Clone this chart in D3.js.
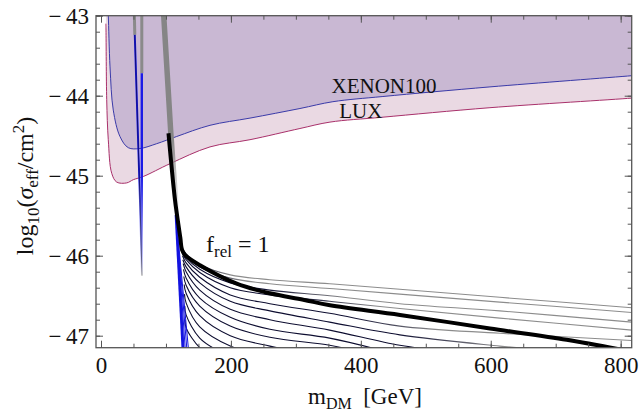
<!DOCTYPE html>
<html lang="en">
  <head>
    <meta charset="UTF-8" />
    <title>Effective cross section</title>
    <style>
      body { margin: 0; background: #fff; }
      text { font-family: "Liberation Serif", "DejaVu Serif", serif; }
    </style>
  </head>
  <body>
    <script src="https://cdn.jsdelivr.net/npm/d3@7"></script>
    <script>
      /* global d3 */

      const width = 641,
        height = 412;
      const margin = { top: 15.7, right: 9.3, bottom: 64.3, left: 96 };

      // [m_DM (GeV), log10(sigma / cm^2)]
      const xenon100 = [
        [10.5, -42.9], [11.2, -43.0], [13.9, -43.64], [18.9, -44.18], [29.2, -44.51],
        [42, -44.65], [60, -44.66], [85.7, -44.6], [116.5, -44.51], [167.8, -44.37],
        [229.4, -44.28], [306.3, -44.16], [357, -44.075], [434, -44.01], [598.8, -43.89],
        [817, -43.75], [830, -43.74]
      ];
      const lux = [
        [7.5, -43.1], [7.7, -43.18], [8.8, -44.05], [11.2, -44.55], [16.5, -44.97],
        [24.2, -45.08], [39.6, -45.09], [49.7, -45.05], [65.1, -45.01], [106.2, -44.85],
        [167.8, -44.64], [229.4, -44.55], [306.3, -44.41], [352.5, -44.33], [432, -44.27],
        [598.8, -44.15], [817, -44.03], [830, -44.02]
      ];
      const fRelOne = [
        [103.9, -44.47], [113.9, -45.3], [122.2, -45.78], [124.5, -45.92], [129.3, -45.99],
        [152.4, -46.12], [208.9, -46.35], [260.2, -46.47], [311.4, -46.55], [352.5, -46.62],
        [460.3, -46.74], [598.8, -46.91], [716.9, -47.05], [798.9, -47.17], [830, -47.22]
      ];
      const fanCurves = [
        [[125, -45.9], [131, -45.98], [152, -46.11], [199, -46.24], [260, -46.3], [352, -46.35], [460, -46.42], [614, -46.52], [817, -46.65], [830, -46.66]],
        [[125, -45.92], [131, -46.0], [152, -46.14], [199, -46.28], [260, -46.35], [352, -46.41], [460, -46.48], [614, -46.58], [817, -46.71], [830, -46.72]],
        [[125, -45.94], [131, -46.02], [152, -46.17], [199, -46.34], [260, -46.43], [352, -46.5], [460, -46.6], [614, -46.69], [817, -46.83], [830, -46.84]],
        [[125, -45.97], [131, -46.05], [152, -46.21], [199, -46.4], [260, -46.49], [352, -46.57], [460, -46.66], [614, -46.78], [817, -46.93], [830, -46.94]],
        [[125.5, -46.0], [131, -46.09], [152, -46.27], [199, -46.49], [260, -46.6], [352, -46.72], [460, -46.88], [614, -46.97], [817, -47.06], [830, -47.07]],
        [[126, -46.05], [131, -46.14], [152, -46.34], [199, -46.57], [260, -46.69], [352, -46.83], [460, -46.99], [614, -47.13], [707, -47.2]],
        [[126.5, -46.1], [131, -46.2], [152, -46.43], [199, -46.67], [260, -46.8], [352, -46.93], [460, -47.12], [537, -47.2]],
        [[127, -46.17], [131, -46.28], [152, -46.53], [199, -46.77], [260, -46.92], [352, -47.03], [430, -47.18]],
        [[127.5, -46.26], [131, -46.37], [152, -46.63], [199, -46.88], [260, -47.02], [352, -47.12], [399, -47.2]],
        [[128, -46.36], [131, -46.47], [152, -46.75], [199, -47.0], [260, -47.13], [306, -47.2]],
        [[128.5, -46.48], [131, -46.59], [152, -46.89], [199, -47.13], [229, -47.2]],
        [[129, -46.63], [131, -46.74], [152, -47.03], [183, -47.2]],
        [[129.5, -46.8], [131, -46.9], [152, -47.15], [168, -47.23]]
      ];
      // near-vertical branches: gray upper part, blue lower part
      const resonanceGray = [
        [[51.3, -42.95], [52.0, -43.24]],
        [[62.8, -42.95], [62.8, -43.72]]
      ];
      const resonanceBlue = [
        [[52.0, -43.24], [60.0, -45.3], [63.1, -46.25]],
        [[62.8, -43.72], [62.8, -46.25]]
      ];
      const grayStrip = [[96.2, -42.95], [107.5, -44.47], [116.5, -45.5]];
      const steepTop = [115.4, -45.49];
      const steepEnds = [126.2, 128, 130, 132.5, 135];

      const xMajor = [0, 200, 400, 600, 800];
      const xMinor = d3.range(0, 801, 50);
      const yMajor = [-47, -46, -45, -44, -43];
      const yMinor = d3.range(-47, -42.99, 0.2);

      // x-position range where each fan curve turns from dark to gray
      const fanFade = [
        [140, 200], [150, 220], [250, 380], [300, 430], [380, 520], [450, 620],
        [900, 950], [900, 950], [900, 950], [900, 950], [900, 950], [900, 950], [900, 950]
      ];

      const x = d3.scaleLinear().domain([-7.7, 817]).range([margin.left, width - margin.right]);
      const y = d3.scaleLinear().domain([-47.15, -43]).range([height - margin.bottom, margin.top]);

      const svg = d3.select("body").append("svg")
        .attr("width", width)
        .attr("height", height);

      const defs = svg.append("defs");
      defs.append("clipPath").attr("id", "plot")
        .append("rect")
        .attr("x", margin.left).attr("y", margin.top)
        .attr("width", width - margin.left - margin.right)
        .attr("height", height - margin.top - margin.bottom);

      const fade = defs.append("linearGradient").attr("id", "fadeBlue")
        .attr("gradientUnits", "userSpaceOnUse")
        .attr("x1", 0).attr("x2", 0).attr("y1", y(-45.0)).attr("y2", y(-46.25));
      fade.append("stop").attr("offset", 0).attr("stop-color", "#1a1ae6").attr("stop-opacity", 1);
      fade.append("stop").attr("offset", 1).attr("stop-color", "#1a1ae6").attr("stop-opacity", 0);

      const fadeGray = defs.append("linearGradient").attr("id", "fadeGray")
        .attr("gradientUnits", "userSpaceOnUse")
        .attr("x1", 0).attr("x2", 0).attr("y1", y(-44.5)).attr("y2", y(-45.5));
      fadeGray.append("stop").attr("offset", 0).attr("stop-color", "#858585").attr("stop-opacity", 1);
      fadeGray.append("stop").attr("offset", 1).attr("stop-color", "#858585").attr("stop-opacity", 0);

      const x0 = x.range()[0], x1 = x.range()[1];
      fanFade.forEach((f, i) => {
        const g = defs.append("linearGradient").attr("id", "fan" + i)
          .attr("gradientUnits", "userSpaceOnUse")
          .attr("x1", x0).attr("x2", x1).attr("y1", 0).attr("y2", 0);
        const a = Math.min(1, (x(f[0]) - x0) / (x1 - x0));
        const b = Math.min(1, (x(f[1]) - x0) / (x1 - x0));
        g.append("stop").attr("offset", a).attr("stop-color", "#0d0d30");
        g.append("stop").attr("offset", b).attr("stop-color", "#8c8c8c");
      });

      const plot = svg.append("g").attr("clip-path", "url(#plot)");

      const curve = d3.line()
        .x(d => x(d[0]))
        .y(d => y(d[1]))
        .curve(d3.curveCatmullRom.alpha(0.5));
      const straight = d3.line().x(d => x(d[0])).y(d => y(d[1]));
      const areaAbove = d3.area()
        .x(d => x(d[0]))
        .y0(margin.top - 5)
        .y1(d => y(d[1]))
        .curve(d3.curveCatmullRom.alpha(0.5));

      // exclusion regions
      plot.append("path").datum(lux).attr("d", areaAbove).attr("fill", "#ead9e3");
      plot.append("path").datum(xenon100).attr("d", areaAbove).attr("fill", "#c9b8d3");
      plot.append("path").datum(lux).attr("d", curve)
        .attr("fill", "none").attr("stroke", "#a8306a").attr("stroke-width", 1);
      plot.append("path").datum(xenon100).attr("d", curve)
        .attr("fill", "none").attr("stroke", "#3a3aa8").attr("stroke-width", 1);

      // Higgs resonance branches
      resonanceGray.forEach(d => {
        plot.append("path").datum(d).attr("d", straight)
          .attr("fill", "none").attr("stroke", "#8a8a8a").attr("stroke-width", 3);
      });
      resonanceBlue.forEach((d, i) => {
        plot.append("path").datum(d).attr("d", straight)
          .attr("fill", "none").attr("stroke", "url(#fadeBlue)")
          .attr("stroke-width", i === 1 ? 2.4 : 2);
      });
      plot.append("path").datum(resonanceBlue[0]).attr("d", straight)
        .attr("fill", "none").attr("stroke", "#000").attr("stroke-width", 0.8)
        .attr("stroke-opacity", 0.6);

      plot.append("path").datum(grayStrip).attr("d", straight)
        .attr("fill", "none").attr("stroke", "url(#fadeGray)").attr("stroke-width", 5.5);

      // family of curves for f_rel < 1
      fanCurves.forEach((d, i) => {
        plot.append("path").datum(d).attr("d", curve)
          .attr("fill", "none").attr("stroke", "url(#fan" + i + ")").attr("stroke-width", 1.1);
      });

      steepEnds.forEach((e, i) => {
        plot.append("path").datum([steepTop, [e, -47.2]]).attr("d", straight)
          .attr("fill", "none").attr("stroke", "#1414e0")
          .attr("stroke-width", i === 0 ? 2.6 : 1);
      });

      plot.append("path").datum(fRelOne).attr("d", curve)
        .attr("fill", "none").attr("stroke", "#000").attr("stroke-width", 4)
        .attr("stroke-linejoin", "round");

      // labels inside the plot
      svg.append("text").attr("x", x(435.7)).attr("y", y(-43.97))
        .attr("text-anchor", "middle").attr("font-size", 21).attr("fill", "#111")
        .text("XENON100");
      svg.append("text").attr("x", x(400)).attr("y", y(-44.28))
        .attr("text-anchor", "middle").attr("font-size", 21).attr("fill", "#111")
        .text("LUX");
      const fl = svg.append("text").attr("x", x(161.6)).attr("y", y(-45.95))
        .attr("font-size", 24).attr("fill", "#111");
      fl.append("tspan").text("f");
      fl.append("tspan").attr("dy", 5).attr("font-size", 17).text("rel");
      fl.append("tspan").attr("dy", -5).text(" = 1");

      // frame
      svg.append("rect")
        .attr("x", margin.left).attr("y", margin.top)
        .attr("width", width - margin.left - margin.right)
        .attr("height", height - margin.top - margin.bottom)
        .attr("fill", "none").attr("stroke", "#555").attr("stroke-width", 1.3);

      function styleAxis(g) {
        g.select(".domain").remove();
        g.selectAll(".tick line").attr("stroke", "#555");
        g.selectAll("text").attr("font-size", 23).attr("fill", "#111")
          .attr("font-family", "Liberation Serif, serif");
      }

      const minusFmt = d => (d < 0 ? "\u2212\u2009" + Math.abs(d) : String(d));

      const xb = height - margin.bottom, yl = margin.left;
      svg.append("g").attr("transform", `translate(0,${xb})`)
        .call(d3.axisBottom(x).tickValues(xMinor).tickSizeInner(-4).tickSizeOuter(0).tickFormat(""))
        .call(styleAxis);
      svg.append("g").attr("transform", `translate(0,${xb})`)
        .call(d3.axisBottom(x).tickValues(xMajor).tickSizeInner(-7).tickSizeOuter(0).tickPadding(9))
        .call(styleAxis);
      svg.append("g").attr("transform", `translate(0,${margin.top})`)
        .call(d3.axisTop(x).tickValues(xMinor).tickSizeInner(-4).tickSizeOuter(0).tickFormat(""))
        .call(styleAxis);
      svg.append("g").attr("transform", `translate(0,${margin.top})`)
        .call(d3.axisTop(x).tickValues(xMajor).tickSizeInner(-7).tickSizeOuter(0).tickFormat(""))
        .call(styleAxis);
      svg.append("g").attr("transform", `translate(${yl},0)`)
        .call(d3.axisLeft(y).tickValues(yMinor).tickSizeInner(-4).tickSizeOuter(0).tickFormat(""))
        .call(styleAxis);
      svg.append("g").attr("transform", `translate(${yl},0)`)
        .call(d3.axisLeft(y).tickValues(yMajor).tickSizeInner(-7).tickSizeOuter(0).tickPadding(7)
          .tickFormat(minusFmt))
        .call(styleAxis);
      svg.append("g").attr("transform", `translate(${width - margin.right},0)`)
        .call(d3.axisRight(y).tickValues(yMinor).tickSizeInner(-4).tickSizeOuter(0).tickFormat(""))
        .call(styleAxis);
      svg.append("g").attr("transform", `translate(${width - margin.right},0)`)
        .call(d3.axisRight(y).tickValues(yMajor).tickSizeInner(-7).tickSizeOuter(0).tickFormat(""))
        .call(styleAxis);

      // axis titles
      const xt = svg.append("text").attr("x", 365).attr("y", 404)
        .attr("text-anchor", "middle").attr("font-size", 23).attr("fill", "#111");
      xt.append("tspan").text("m");
      xt.append("tspan").attr("dy", 5).attr("font-size", 16).text("DM");
      xt.append("tspan").attr("dy", -5).text("\u00a0\u00a0[GeV]");

      const yt = svg.append("text").attr("transform", "translate(33,186) rotate(-90)")
        .attr("text-anchor", "middle").attr("font-size", 24).attr("fill", "#111");
      yt.append("tspan").text("log");
      yt.append("tspan").attr("dy", 6).attr("font-size", 17).text("10");
      yt.append("tspan").attr("dy", -6).text("(");
      yt.append("tspan").attr("font-style", "italic").text("σ");
      yt.append("tspan").attr("dy", 5).attr("font-size", 17).text("eff");
      yt.append("tspan").attr("dy", -5).text("/cm");
      yt.append("tspan").attr("dy", -9).attr("font-size", 17).text("2");
      yt.append("tspan").attr("dy", 9).text(")");
    </script>
  </body>
</html>
